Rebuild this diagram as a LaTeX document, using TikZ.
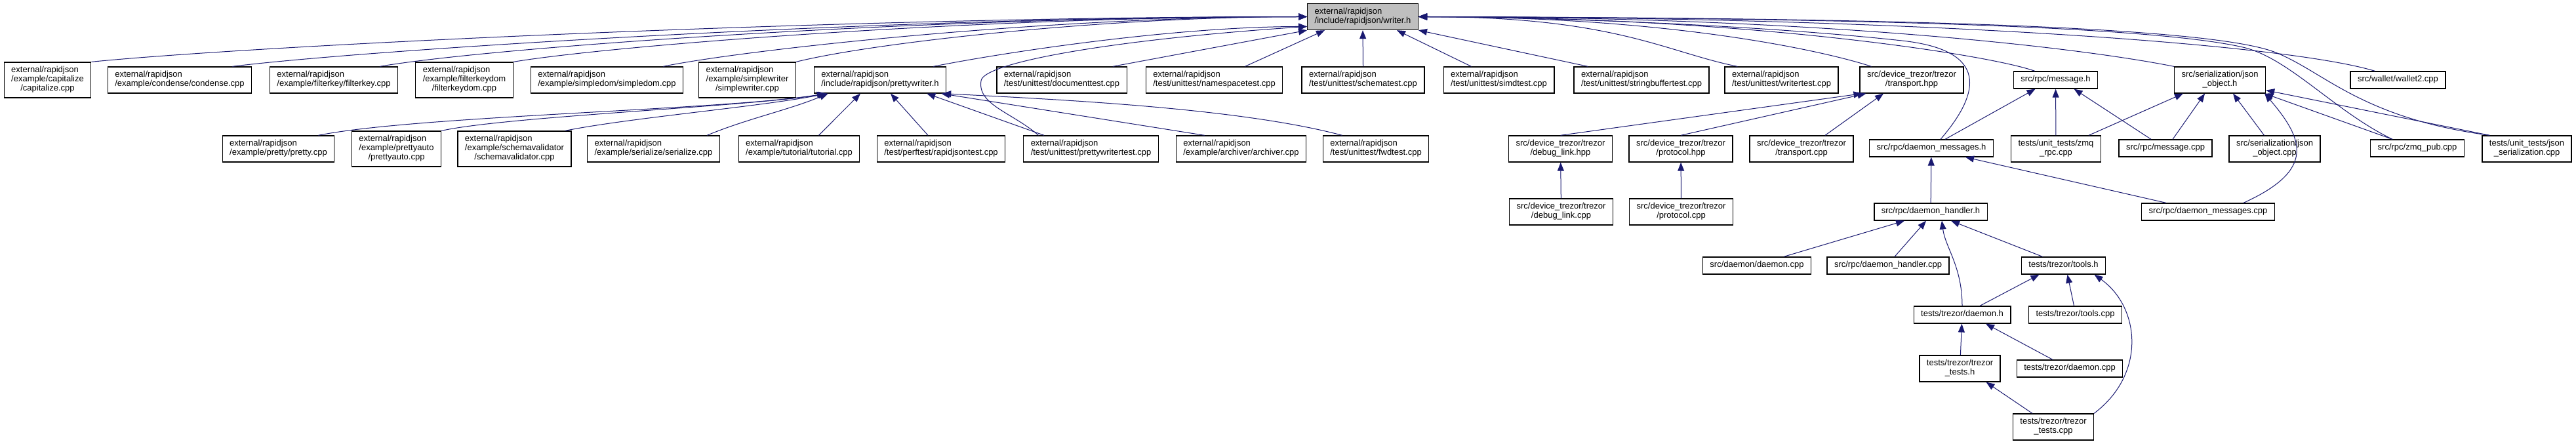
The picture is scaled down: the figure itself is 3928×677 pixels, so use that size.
\documentclass[tikz,border=0pt]{standalone}
\usepackage{fontspec}
\setmainfont{Liberation Sans}
\usetikzlibrary{arrows.meta}
\definecolor{edgeblue}{HTML}{191970}
\definecolor{rootgray}{HTML}{BFBFBF}
% label with left-aligned upper lines and a centred last line
\newcommand{\flab}[2]{\begin{tabular}{@{}l@{}}#1\\\multicolumn{1}{@{}c@{}}{#2}\end{tabular}}
\newcommand{\slab}[1]{\begin{tabular}{@{}c@{}}#1\end{tabular}}
\tikzset{
  file/.style={draw=black, fill=white, line width=1.3pt, inner xsep=11pt, inner ysep=6pt, font=\fontsize{13}{14}\selectfont},
  rootfile/.style={file, fill=rootgray},
  dep/.style={draw=edgeblue, line width=1pt, -{Triangle[length=13pt,width=10pt]}},
}
\begin{document}
\begin{tikzpicture}[x=1pt,y=-1pt]
  \useasboundingbox (0,0) rectangle (3928,677);
  % root
  \node[rootfile] (writer) at (2078,25.5) {\flab{external/rapidjson}{/include/rapidjson/writer.h}};
  % row 2
  \node[file] (capitalize) at (72.5,122) {\flab{external/rapidjson\\/example/capitalize}{/capitalize.cpp}};
  \node[file] (condense) at (274,122) {\flab{external/rapidjson}{/example/condense/condense.cpp}};
  \node[file] (filterkey) at (509,122) {\flab{external/rapidjson}{/example/filterkey/filterkey.cpp}};
  \node[file] (filterkeydom) at (708,122) {\flab{external/rapidjson\\/example/filterkeydom}{/filterkeydom.cpp}};
  \node[file] (simpledom) at (925.5,122) {\flab{external/rapidjson}{/example/simpledom/simpledom.cpp}};
  \node[file] (simplewriter) at (1139.5,122) {\flab{external/rapidjson\\/example/simplewriter}{/simplewriter.cpp}};
  \node[file] (prettywriter) at (1342,122) {\flab{external/rapidjson}{/include/rapidjson/prettywriter.h}};
  \node[file] (documenttest) at (1619,122) {\flab{external/rapidjson}{/test/unittest/documenttest.cpp}};
  \node[file] (namespacetest) at (1851.5,122) {\flab{external/rapidjson}{/test/unittest/namespacetest.cpp}};
  \node[file] (schematest) at (2078.5,122) {\flab{external/rapidjson}{/test/unittest/schematest.cpp}};
  \node[file] (simdtest) at (2285.5,122) {\flab{external/rapidjson}{/test/unittest/simdtest.cpp}};
  \node[file] (sbuftest) at (2503,122) {\flab{external/rapidjson}{/test/unittest/stringbuffertest.cpp}};
  \node[file] (writertest) at (2716.5,122) {\flab{external/rapidjson}{/test/unittest/writertest.cpp}};
  \node[file] (transph) at (2915,122) {\flab{src/device\_trezor/trezor}{/transport.hpp}};
  \node[file] (messageh) at (3134.5,122) {\slab{src/rpc/message.h}};
  \node[file] (jsonobjh) at (3385,122) {\flab{src/serialization/json}{\_object.h}};
  \node[file] (wallet) at (3656.5,122) {\slab{src/wallet/wallet2.cpp}};
  % row 3
  \node[file] (pretty) at (424.5,227) {\flab{external/rapidjson}{/example/pretty/pretty.cpp}};
  \node[file] (prettyauto) at (604.5,227) {\flab{external/rapidjson\\/example/prettyauto}{/prettyauto.cpp}};
  \node[file] (schemaval) at (784.5,227) {\flab{external/rapidjson\\/example/schemavalidator}{/schemavalidator.cpp}};
  \node[file] (serialize) at (996.5,227) {\flab{external/rapidjson}{/example/serialize/serialize.cpp}};
  \node[file] (tutorial) at (1218.5,227) {\flab{external/rapidjson}{/example/tutorial/tutorial.cpp}};
  \node[file] (perftest) at (1435,227) {\flab{external/rapidjson}{/test/perftest/rapidjsontest.cpp}};
  \node[file] (pwtest) at (1663.5,227) {\flab{external/rapidjson}{/test/unittest/prettywritertest.cpp}};
  \node[file] (archiver) at (1892.5,227) {\flab{external/rapidjson}{/example/archiver/archiver.cpp}};
  \node[file] (fwdtest) at (2098,227) {\flab{external/rapidjson}{/test/unittest/fwdtest.cpp}};
  \node[file] (dlinkh) at (2379.5,227) {\flab{src/device\_trezor/trezor}{/debug\_link.hpp}};
  \node[file] (protoh) at (2563,227) {\flab{src/device\_trezor/trezor}{/protocol.hpp}};
  \node[file] (transpc) at (2747,227) {\flab{src/device\_trezor/trezor}{/transport.cpp}};
  \node[file] (dmsgh) at (2945,226) {\slab{src/rpc/daemon\_messages.h}};
  \node[file] (zmqrpc) at (3135,227) {\flab{tests/unit\_tests/zmq}{\_rpc.cpp}};
  \node[file] (messagec) at (3302,226) {\slab{src/rpc/message.cpp}};
  \node[file] (jsonobjc) at (3468.5,227) {\flab{src/serialization/json}{\_object.cpp}};
  \node[file] (zmqpub) at (3686,226) {\slab{src/rpc/zmq\_pub.cpp}};
  \node[file] (jsonser) at (3853,227) {\flab{tests/unit\_tests/json}{\_serialization.cpp}};
  % lower rows
  \node[file] (dlinkc) at (2380.5,323) {\flab{src/device\_trezor/trezor}{/debug\_link.cpp}};
  \node[file] (protoc) at (2563.5,323) {\flab{src/device\_trezor/trezor}{/protocol.cpp}};
  \node[file] (dhandh) at (2944,323) {\slab{src/rpc/daemon\_handler.h}};
  \node[file] (dmsgc) at (3367,323) {\slab{src/rpc/daemon\_messages.cpp}};
  \node[file] (daemonc) at (2679,405) {\slab{src/daemon/daemon.cpp}};
  \node[file] (dhandc) at (2879,405) {\slab{src/rpc/daemon\_handler.cpp}};
  \node[file] (toolsh) at (3146.5,405) {\slab{tests/trezor/tools.h}};
  \node[file] (tdaemonh) at (2992,480) {\slab{tests/trezor/daemon.h}};
  \node[file] (toolsc) at (3164.5,480) {\slab{tests/trezor/tools.cpp}};
  \node[file] (ttestsh) at (2988.5,562) {\flab{tests/trezor/trezor}{\_tests.h}};
  \node[file] (tdaemonc) at (3156,562) {\slab{tests/trezor/daemon.cpp}};
  \node[file] (ttestsc) at (3131,651) {\flab{tests/trezor/trezor}{\_tests.cpp}};

  % edges into writer.h
  \draw[dep] (capitalize.north east) .. controls +(250,-25) and +(-700,0) .. (writer.west);
  \draw[dep] ([xshift=-30pt]condense.north east) .. controls +(200,-25) and +(-650,0) .. (writer.west);
  \draw[dep] ([xshift=-28pt]filterkey.north east) .. controls +(160,-28) and +(-600,0) .. (writer.west);
  \draw[dep] (filterkeydom.north east) .. controls +(150,-25) and +(-500,0) .. (writer.west);
  \draw[dep] ([xshift=-31pt]simpledom.north east) .. controls +(120,-25) and +(-400,0) .. (writer.west);
  \draw[dep] (simplewriter.north east) .. controls +(120,-30) and +(-300,0) .. (writer.west);
  \draw[dep] ([xshift=-20pt]prettywriter.north east) .. controls +(110,-22) and +(-200,0) .. (writer.190);
  \draw[dep] ([xshift=-80pt]pwtest.north) .. controls +(-40,-35) and +(-6,37) .. (1496,123)
    .. controls (1500,95) and (1700,60) .. (writer.190);
  \draw[dep] ([xshift=-22pt]documenttest.north east) -- (writer.south west);
  \draw[dep] ([xshift=-58pt]namespacetest.north east) -- ([xshift=-58pt]writer.south);
  \draw[dep] (schematest.north) -- (writer.south);
  \draw[dep] ([xshift=-42pt]simdtest.north) -- ([xshift=52pt]writer.south);
  \draw[dep] ([xshift=22pt]sbuftest.north west) -- (writer.south east);
  \draw[dep] ([xshift=20pt]writertest.north west) .. controls +(-110,-22) and +(300,0) .. (writer.east);
  \draw[dep] ([xshift=18pt]transph.north west) .. controls +(-60,-20) and +(400,0) .. (writer.east);
  \draw[dep] ([xshift=33pt]messageh.north west) .. controls +(-70,-25) and +(500,0) .. (writer.east);
  \draw[dep] (jsonobjh.north west) .. controls +(-150,-30) and +(600,0) .. (writer.east);
  \draw[dep] ([xshift=38pt]wallet.north west) .. controls +(-150,-45) and +(700,0) .. (writer.east);
  \draw[dep] ([xshift=14pt]dmsgh.north) .. controls (3030,130) and (3020,75) .. (2900,62)
    .. controls (2700,40) and (2400,27) .. (writer.east);
  \draw[dep] ([xshift=34pt]zmqpub.north west) .. controls (3560,170) and (3490,88) .. (3420,72)
    .. controls (3245,32) and (2600,27) .. (writer.east);
  \draw[dep] ([xshift=12pt]jsonser.north west) .. controls (3600,180) and (3545,110) .. (3470,80)
    .. controls (3345,30) and (2600,27) .. (writer.east);

  % edges into prettywriter.h
  \draw[dep] ([xshift=-25pt]pretty.north east) .. controls +(150,-30) and +(-150,25) .. ([xshift=18pt]prettywriter.south west);
  \draw[dep] (prettyauto.north east) .. controls +(100,-22) and +(-120,20) .. ([xshift=20pt]prettywriter.south west);
  \draw[dep] ([xshift=-10pt]schemaval.north east) .. controls +(100,-20) and +(-100,20) .. ([xshift=20pt]prettywriter.south west);
  \draw[dep] ([xshift=-20pt]serialize.north east) .. controls +(60,-25) and +(-60,25) .. ([xshift=22pt]prettywriter.south west);
  \draw[dep] ([xshift=30pt]tutorial.north) -- ([xshift=-30pt]prettywriter.south);
  \draw[dep] ([xshift=-20pt]perftest.north) -- ([xshift=16pt]prettywriter.south);
  \draw[dep] ([xshift=32pt]pwtest.north west) -- ([xshift=-30pt]prettywriter.south east);
  \draw[dep] ([xshift=44pt]archiver.north west) -- ([xshift=-8pt]prettywriter.south east);
  \draw[dep] ([xshift=30pt]fwdtest.north west) .. controls +(-150,-40) and +(200,10) .. ([xshift=-6pt]prettywriter.south east);

  % device_trezor
  \draw[dep] (dlinkh.north) -- ([xshift=4pt]transph.south west);
  \draw[dep] (protoh.north) -- ([xshift=10pt]transph.south west);
  \draw[dep] ([xshift=36pt]transpc.north) -- ([xshift=-43pt]transph.south);
  \draw[dep] (dlinkc) -- (dlinkh);
  \draw[dep] (protoc) -- (protoh);

  % rpc and serialization
  \draw[dep] ([xshift=21pt]dmsgh.north) -- ([xshift=-31pt]messageh.south);
  \draw[dep] (zmqrpc) -- (messageh);
  \draw[dep] ([xshift=-22pt]messagec.north) -- ([xshift=28pt]messageh.south);
  \draw[dep] ([xshift=50pt]zmqrpc.north) -- ([xshift=-56pt]jsonobjh.south);
  \draw[dep] ([xshift=11pt]messagec.north) -- ([xshift=-23pt]jsonobjh.south);
  \draw[dep] ([xshift=-16pt]jsonobjc.north) -- ([xshift=20pt]jsonobjh.south);
  \draw[dep] ([xshift=34pt]zmqpub.north west) -- ([xshift=-2pt]jsonobjh.south east);
  \draw[dep] ([xshift=12pt]jsonser.north west) -- ([yshift=5pt]jsonobjh.south east);
  \draw[dep] ([xshift=54pt]dmsgc.north) .. controls +(110,-50) and +(60,70) .. ([xshift=-2pt]jsonobjh.south east);
  \draw[dep] (dhandh) -- (dmsgh);
  \draw[dep] ([xshift=-64pt]dmsgc.north) -- ([xshift=52pt]dmsgh.south);

  % daemon handler and trezor tests
  \draw[dep] ([xshift=41pt]daemonc.north) -- ([xshift=-40pt]dhandh.south);
  \draw[dep] ([xshift=10pt]dhandc.north) -- ([xshift=-7pt]dhandh.south);
  \draw[dep] (tdaemonh.north) .. controls +(0,-60) and +(5,40) .. ([xshift=17pt]dhandh.south);
  \draw[dep] ([xshift=-32pt]toolsh.north) -- ([xshift=31pt]dhandh.south);
  \draw[dep] ([xshift=27pt]tdaemonh.north) -- ([xshift=-37pt]toolsh.south);
  \draw[dep] ([xshift=-2pt]toolsc.north) -- ([xshift=6pt]toolsh.south);
  \draw[dep] ([xshift=62pt]ttestsc.north) .. controls +(80,-60) and +(70,50) .. ([xshift=47pt]toolsh.south);
  \draw[dep] (ttestsh) -- (tdaemonh);
  \draw[dep] ([xshift=-26pt]tdaemonc.north) -- ([xshift=36pt]tdaemonh.south);
  \draw[dep] ([xshift=-32pt]ttestsc.north) -- ([xshift=40pt]ttestsh.south);
\end{tikzpicture}
\end{document}
